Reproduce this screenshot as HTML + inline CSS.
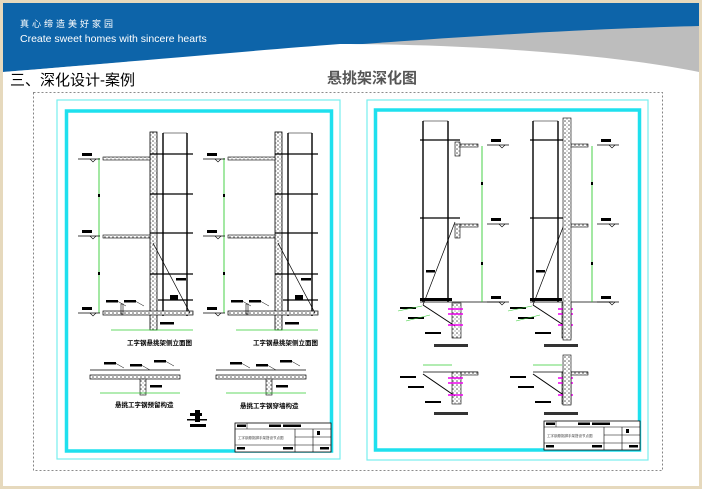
<!DOCTYPE html>
<html><head><meta charset="utf-8"><style>
html,body{margin:0;padding:0;width:702px;height:489px;overflow:hidden;background:#e6d9bd;}
svg{display:block}
text{font-family:"Liberation Sans","Noto Sans CJK SC",sans-serif}
</style></head><body>
<svg width="702" height="489" viewBox="0 0 702 489" xmlns="http://www.w3.org/2000/svg">
<defs>
<pattern id="h" width="4" height="4" patternUnits="userSpaceOnUse"><rect width="4" height="4" fill="#fff"/><circle cx="1" cy="1" r="0.8" fill="#555"/><circle cx="3" cy="3" r="0.6" fill="#777"/></pattern>
<g id="lvl"><line x1="0" y1="0" x2="22" y2="0" stroke="#000" stroke-width="0.8"/><rect x="4" y="-6" width="10" height="3" fill="#000"/><path d="M12 0 l3 3 l3 -3" fill="none" stroke="#000" stroke-width="0.6"/></g>
<g id="lbl"><rect width="12" height="2.5" fill="#000"/><line x1="12" y1="1.5" x2="20" y2="6" stroke="#000" stroke-width="0.5"/></g>
<g id="tb">
<rect x="0" y="0" width="96" height="29" fill="#fff" stroke="#000" stroke-width="0.8"/>
<line x1="0" y1="6" x2="96" y2="6" stroke="#000" stroke-width="0.6"/>
<line x1="0" y1="22" x2="96" y2="22" stroke="#000" stroke-width="0.6"/>
<line x1="60" y1="6" x2="60" y2="29" stroke="#000" stroke-width="0.6"/>
<line x1="78" y1="6" x2="78" y2="29" stroke="#000" stroke-width="0.6"/>
<line x1="60" y1="14" x2="96" y2="14" stroke="#000" stroke-width="0.5"/>
<line x1="12" y1="0" x2="12" y2="6" stroke="#000" stroke-width="0.5"/>
<rect x="2" y="1.5" width="9" height="2.5" fill="#000"/><rect x="34" y="1.5" width="12" height="2.5" fill="#000"/><rect x="48" y="1.5" width="18" height="2.5" fill="#000"/>
<rect x="82" y="8" width="3" height="4" fill="#000"/><rect x="2" y="24" width="8" height="2.5" fill="#000"/><rect x="48" y="24" width="10" height="2.5" fill="#000"/><rect x="85" y="24" width="9" height="2.5" fill="#000"/>
<text x="3" y="16" font-size="3.5" fill="#444">工字钢悬挑脚手架搭设节点图</text>
</g>
<g id="elA">
<rect x="150" y="132" width="7" height="198" fill="url(#h)" stroke="#000" stroke-width="0.8"/>
<line x1="163" y1="133" x2="163" y2="316" stroke="#000" stroke-width="1.4"/>
<line x1="187" y1="133" x2="187" y2="316" stroke="#000" stroke-width="1.4"/>
<line x1="163" y1="133" x2="187" y2="133" stroke="#000" stroke-width="0.6"/>
<g stroke="#000" stroke-width="1.2"><line x1="150" y1="154" x2="193" y2="154"/><line x1="150" y1="194" x2="193" y2="194"/><line x1="150" y1="233" x2="193" y2="233"/><line x1="150" y1="274" x2="193" y2="274"/><line x1="158" y1="300" x2="193" y2="300"/></g>
<rect x="103" y="157" width="47" height="3" fill="url(#h)" stroke="#000" stroke-width="0.6"/>
<rect x="103" y="235" width="47" height="3" fill="url(#h)" stroke="#000" stroke-width="0.6"/>
<rect x="103" y="311" width="90" height="4" fill="url(#h)" stroke="#000" stroke-width="0.7"/>
<line x1="153" y1="243" x2="190" y2="313" stroke="#000" stroke-width="0.7"/>
<line x1="99" y1="158" x2="99" y2="313" stroke="#3c3" stroke-width="0.9"/>
<rect x="98" y="194" width="2" height="3" fill="#000"/><rect x="98" y="272" width="2" height="3" fill="#000"/>
<use href="#lvl" x="78" y="159"/><use href="#lvl" x="78" y="236"/><use href="#lvl" x="78" y="313"/>
<rect x="170" y="295" width="8" height="5" fill="#000"/>
<rect x="176" y="278" width="10" height="2.5" fill="#000"/>
<use href="#lbl" x="106" y="300"/><use href="#lbl" x="124" y="300"/>
<rect x="160" y="322" width="14" height="2.5" fill="#000"/>
<line x1="111" y1="330" x2="193" y2="330" stroke="#3c3" stroke-width="0.8"/>
<rect x="121" y="304" width="2" height="10" fill="none" stroke="#000" stroke-width="0.6"/>
</g>
<g id="dtA">
<rect x="90" y="375" width="90" height="4" fill="url(#h)" stroke="#000" stroke-width="0.7"/>
<line x1="90" y1="370" x2="180" y2="370" stroke="#000" stroke-width="0.7"/>
<rect x="140" y="379" width="6" height="16" fill="url(#h)" stroke="#000" stroke-width="0.6"/>
<use href="#lbl" x="104" y="362"/><use href="#lbl" x="130" y="364"/><use href="#lbl" x="154" y="360"/>
<rect x="150" y="385" width="12" height="2.5" fill="#000"/>
<line x1="100" y1="393" x2="180" y2="393" stroke="#3c3" stroke-width="0.8"/>
</g>
<g id="elR">
<line x1="423" y1="121" x2="423" y2="302" stroke="#000" stroke-width="1.4"/>
<line x1="448" y1="121" x2="448" y2="302" stroke="#000" stroke-width="1.4"/>
<line x1="423" y1="121" x2="448" y2="121" stroke="#000" stroke-width="0.6"/>
<g stroke="#000" stroke-width="1.2"><line x1="420" y1="140" x2="460" y2="140"/><line x1="420" y1="218" x2="460" y2="218"/></g>
<rect x="455" y="142" width="5" height="14" fill="url(#h)" stroke="#000" stroke-width="0.6"/>
<rect x="455" y="224" width="5" height="14" fill="url(#h)" stroke="#000" stroke-width="0.6"/>
<rect x="460" y="144" width="18" height="3" fill="url(#h)" stroke="#000" stroke-width="0.6"/>
<rect x="460" y="224" width="18" height="3" fill="url(#h)" stroke="#000" stroke-width="0.6"/>
<line x1="455" y1="222" x2="423" y2="305" stroke="#000" stroke-width="0.7"/>
<rect x="420" y="298" width="32" height="3" fill="#000"/>
<line x1="420" y1="302" x2="503" y2="302" stroke="#000" stroke-width="0.8"/>
<rect x="452" y="303" width="9" height="35" fill="url(#h)" stroke="#000" stroke-width="0.6"/>
<line x1="423" y1="305" x2="455" y2="326" stroke="#000" stroke-width="1"/>
<g stroke="#e0e" stroke-width="1.5"><line x1="448" y1="309" x2="463" y2="309"/><line x1="448" y1="314" x2="463" y2="314"/><line x1="448" y1="325" x2="463" y2="325"/></g>
<line x1="482" y1="146" x2="482" y2="302" stroke="#3c3" stroke-width="0.9"/>
<rect x="481" y="182" width="2" height="3" fill="#000"/><rect x="481" y="262" width="2" height="3" fill="#000"/>
<use href="#lvl" x="487" y="145"/><use href="#lvl" x="487" y="224"/><use href="#lvl" x="487" y="302"/>
<rect x="426" y="270" width="9" height="2.5" fill="#000"/>
<rect x="400" y="307" width="16" height="2" fill="#000"/><rect x="408" y="317" width="16" height="2" fill="#000"/><rect x="425" y="332" width="16" height="2" fill="#000"/>
<line x1="398" y1="311" x2="422" y2="306" stroke="#3c3" stroke-width="0.6"/>
<line x1="406" y1="321" x2="430" y2="315" stroke="#3c3" stroke-width="0.6"/>
<rect x="434" y="344" width="34" height="3" fill="#333"/>
</g>
<g id="dtR">
<line x1="423" y1="365" x2="452" y2="365" stroke="#3c3" stroke-width="0.8"/>
<line x1="423" y1="372" x2="478" y2="372" stroke="#000" stroke-width="0.8"/>
<rect x="452" y="372" width="9" height="32" fill="url(#h)" stroke="#000" stroke-width="0.6"/>
<rect x="461" y="372" width="17" height="3" fill="url(#h)" stroke="#000" stroke-width="0.6"/>
<line x1="423" y1="374" x2="455" y2="396" stroke="#000" stroke-width="1"/>
<g stroke="#e0e" stroke-width="1.5"><line x1="448" y1="378" x2="463" y2="378"/><line x1="448" y1="383" x2="463" y2="383"/><line x1="448" y1="395" x2="463" y2="395"/></g>
<rect x="400" y="376" width="16" height="2" fill="#000"/><rect x="408" y="386" width="16" height="2" fill="#000"/><rect x="425" y="401" width="16" height="2" fill="#000"/>
<rect x="434" y="412" width="34" height="3" fill="#333"/>
</g>
</defs>
<rect x="3" y="3" width="696" height="483" fill="#fff"/>
<rect x="3" y="3" width="696" height="72" fill="#0d64a9"/>
<path d="M3 72 C150 60 300 48 420 40 C520 33 620 28 699 26 L699 80 L3 80 Z" fill="#bdbdbd"/>
<path d="M3 72 C150 60 260 50 340 44 C450 44 600 52 699 72 L699 80 L3 80 Z" fill="#fff"/>
<text x="20" y="27" font-size="9" fill="#fff" letter-spacing="3">真心缔造美好家园</text>
<text x="20" y="42" font-size="10.5" fill="#fff">Create sweet homes with sincere hearts</text>
<text x="10" y="85" font-size="15" fill="#000">三、深化设计-案例</text>
<text x="327" y="83" font-size="15" font-weight="bold" fill="#555">悬挑架深化图</text>
<rect x="33.5" y="92.5" width="629" height="378" fill="none" stroke="#666" stroke-width="0.8" stroke-dasharray="2,2"/>
<rect x="57" y="100" width="283" height="359" fill="#fff" stroke="#7ee" stroke-width="1.2"/>
<rect x="66.5" y="111" width="265" height="340" fill="#fff" stroke="#1ee0ee" stroke-width="3.5"/>
<use href="#elA"/><use href="#elA" x="125"/>
<text x="127" y="345" font-size="6.5" font-weight="bold">工字钢悬挑架侧立面图</text>
<text x="253" y="345" font-size="6.5" font-weight="bold">工字钢悬挑架侧立面图</text>
<use href="#dtA"/><use href="#dtA" x="126"/>
<text x="115" y="407" font-size="6.5" font-weight="bold">悬挑工字钢预留构造</text>
<text x="240" y="408" font-size="6.5" font-weight="bold">悬挑工字钢穿墙构造</text>
<rect x="190" y="413" width="12" height="3" fill="#000"/><rect x="195" y="410" width="5" height="12" fill="#000"/><rect x="187" y="419" width="20" height="1.5" fill="#000"/><rect x="190" y="424" width="16" height="3" fill="#000"/>
<use href="#tb" x="235" y="423"/>
<rect x="367" y="100" width="281" height="360" fill="#fff" stroke="#7ee" stroke-width="1.2"/>
<rect x="375.5" y="110" width="264" height="340" fill="#fff" stroke="#1ee0ee" stroke-width="3.5"/>
<use href="#elR"/><use href="#elR" x="110"/>
<use href="#dtR"/><use href="#dtR" x="110"/>
<rect x="563" y="118" width="8" height="222" fill="url(#h)" stroke="#000" stroke-width="0.6"/>
<rect x="563" y="355" width="8" height="50" fill="url(#h)" stroke="#000" stroke-width="0.6"/>
<use href="#tb" x="544" y="421"/>
</svg>
</body></html>
